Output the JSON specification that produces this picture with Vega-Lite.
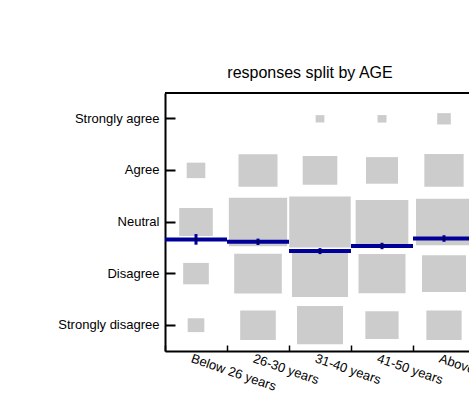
{
  "$schema": "https://vega.github.io/schema/vega-lite/v6.json",
  "autosize": {"type": "none"},
  "width": 304,
  "height": 258,
  "padding": {"left": 165, "top": 93, "right": 0, "bottom": 42},
  "background": "white",
  "config": {
    "view": {"stroke": null},
    "font": "Liberation Sans",
    "axis": {"grid": false}
  },
  "title": {
    "text": "responses split by AGE",
    "fontSize": 16,
    "fontWeight": "normal",
    "font": "Liberation Sans",
    "color": "black",
    "anchor": "middle",
    "dx": -7,
    "dy": 17,
    "offset": 15,
    "baseline": "alphabetic"
  },
  "datasets": {
    "cells": [
      {"age": "Below 26 years", "response": "Agree", "count": 4.5},
      {"age": "Below 26 years", "response": "Neutral", "count": 14.7},
      {"age": "Below 26 years", "response": "Disagree", "count": 8.6},
      {"age": "Below 26 years", "response": "Strongly disagree", "count": 3.6},
      {"age": "26-30 years", "response": "Agree", "count": 19.8},
      {"age": "26-30 years", "response": "Neutral", "count": 44.2},
      {"age": "26-30 years", "response": "Disagree", "count": 29.5},
      {"age": "26-30 years", "response": "Strongly disagree", "count": 16.5},
      {"age": "31-40 years", "response": "Strongly agree", "count": 1.0},
      {"age": "31-40 years", "response": "Agree", "count": 15.6},
      {"age": "31-40 years", "response": "Neutral", "count": 49.2},
      {"age": "31-40 years", "response": "Disagree", "count": 40.8},
      {"age": "31-40 years", "response": "Strongly disagree", "count": 27.5},
      {"age": "41-50 years", "response": "Strongly agree", "count": 1.05},
      {"age": "41-50 years", "response": "Agree", "count": 13.3},
      {"age": "41-50 years", "response": "Neutral", "count": 36.1},
      {"age": "41-50 years", "response": "Disagree", "count": 28.7},
      {"age": "41-50 years", "response": "Strongly disagree", "count": 14.4},
      {"age": "Above 50 years", "response": "Strongly agree", "count": 2.4},
      {"age": "Above 50 years", "response": "Agree", "count": 20.1},
      {"age": "Above 50 years", "response": "Neutral", "count": 40.8},
      {"age": "Above 50 years", "response": "Disagree", "count": 25.2},
      {"age": "Above 50 years", "response": "Strongly disagree", "count": 16.2}
    ],
    "means": [
      {"age": "Below 26 years", "mean": 2.663, "se": 0.103},
      {"age": "26-30 years", "mean": 2.616, "se": 0.062},
      {"age": "31-40 years", "mean": 2.436, "se": 0.058},
      {"age": "41-50 years", "mean": 2.535, "se": 0.062},
      {"age": "Above 50 years", "mean": 2.68, "se": 0.064}
    ]
  },
  "layer": [
    {
      "data": {"name": "cells"},
      "mark": {
        "type": "point",
        "shape": "M-1,-0.832L1,-0.832L1,0.832L-1,0.832Z",
        "filled": true,
        "color": "#cccccc",
        "opacity": 1,
        "strokeWidth": 0
      },
      "encoding": {
        "x": {
          "field": "age",
          "type": "ordinal",
          "sort": ["Below 26 years", "26-30 years", "31-40 years", "41-50 years", "Above 50 years"],
          "scale": {"type": "band", "paddingInner": 0, "paddingOuter": 0, "range": [0, 310]},
          "axis": {
            "title": null,
            "tickBand": "extent",
            "tickSize": -6,
            "tickWidth": 1.5,
            "tickColor": "black",
            "domainColor": "black",
            "domainWidth": 2,
            "labelAngle": 19,
            "labelAlign": "left",
            "labelBaseline": "top",
            "labelPadding": 7,
            "labelOffset": -3,
            "labelOverlap": false,
            "labelFontSize": 13,
            "labelColor": "black",
            "labelFont": "Liberation Sans"
          }
        },
        "y": {
          "field": "response",
          "type": "ordinal",
          "sort": ["Strongly agree", "Agree", "Neutral", "Disagree", "Strongly disagree"],
          "scale": {"type": "band", "paddingInner": 0, "paddingOuter": 0},
          "axis": {
            "title": null,
            "tickSize": -10,
            "tickWidth": 2,
            "tickColor": "black",
            "domainColor": "black",
            "domainWidth": 2,
            "labelPadding": 16,
            "labelFontSize": 13,
            "labelColor": "black",
            "labelFont": "Liberation Sans"
          }
        },
        "size": {
          "field": "count",
          "type": "quantitative",
          "scale": {"type": "linear", "domain": [0, 50], "range": [0, 3844], "zero": true},
          "legend": null
        }
      }
    },
    {
      "data": {"name": "means"},
      "layer": [
        {
          "mark": {"type": "rule", "color": "black", "strokeWidth": 2},
          "encoding": {
            "y": {"datum": 5.5, "type": "quantitative", "scale": {"domain": [0.5, 5.5], "nice": false, "zero": false}, "axis": null}
          }
        },
        {
          "mark": {"type": "tick", "size": 62, "thickness": 4, "color": "#000099", "opacity": 1},
          "encoding": {
            "x": {"field": "age", "type": "ordinal", "sort": ["Below 26 years", "26-30 years", "31-40 years", "41-50 years", "Above 50 years"]},
            "y": {"field": "mean", "type": "quantitative", "axis": null}
          }
        },
        {
          "mark": {"type": "errorbar", "ticks": false, "thickness": 3, "color": "#000099"},
          "encoding": {
            "x": {"field": "age", "type": "ordinal", "sort": ["Below 26 years", "26-30 years", "31-40 years", "41-50 years", "Above 50 years"]},
            "y": {"field": "mean", "type": "quantitative", "axis": null},
            "yError": {"field": "se"}
          }
        },
        {
          "mark": {"type": "circle", "size": 5, "color": "black", "opacity": 1},
          "encoding": {
            "x": {"field": "age", "type": "ordinal", "sort": ["Below 26 years", "26-30 years", "31-40 years", "41-50 years", "Above 50 years"]},
            "y": {"field": "mean", "type": "quantitative", "axis": null}
          }
        }
      ]
    }
  ],
  "resolve": {"scale": {"y": "independent"}}
}
